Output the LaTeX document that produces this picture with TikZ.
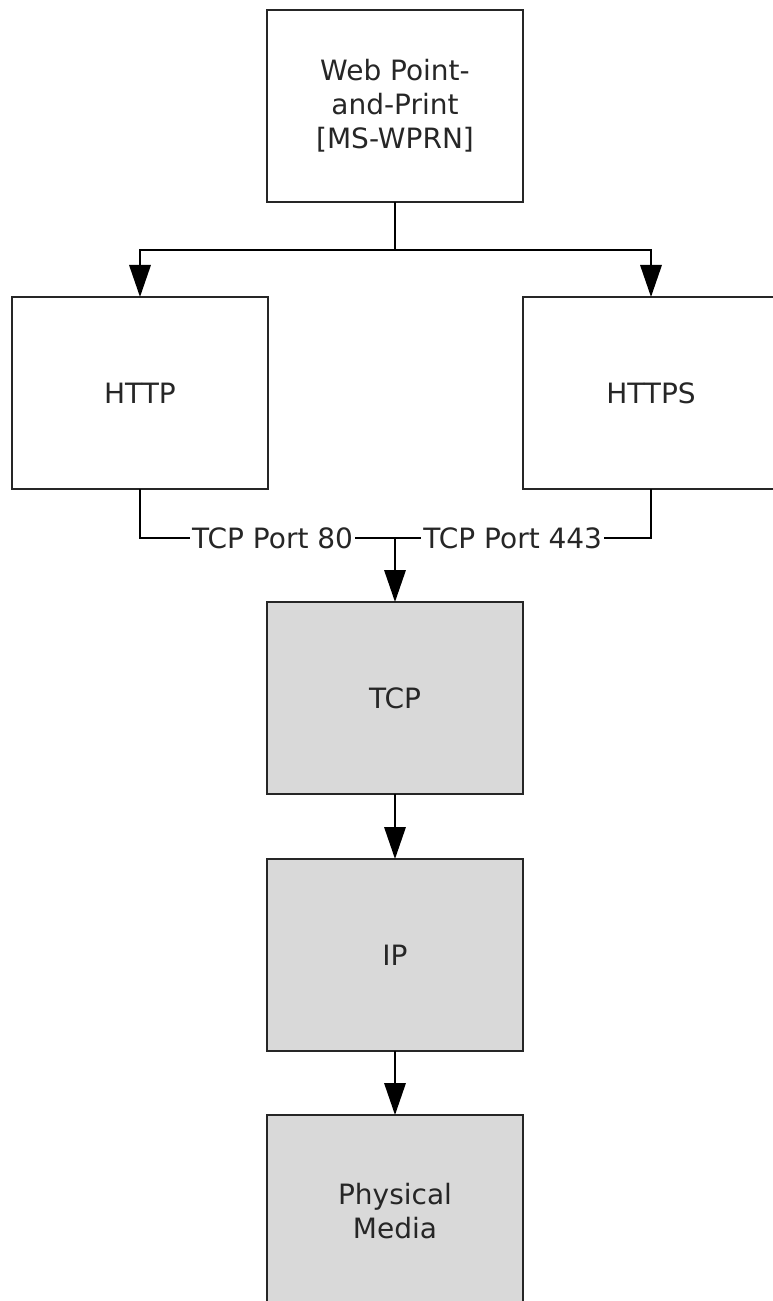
\documentclass[tikz,border=0pt]{standalone}
\usepackage{fontspec}
\setmainfont{DejaVu Sans}
\usetikzlibrary{arrows.meta,positioning,calc}

\begin{document}
\begin{tikzpicture}[
    node distance=48pt,
    box/.style={rectangle, draw=black!85, line width=1.7pt, outer sep=0pt, minimum width=192pt, minimum height=144pt, align=center, font=\fontsize{21}{25.5}\selectfont, text=black!85},
    layer/.style={box, fill=black!15},
    port/.style={fill=white, inner sep=1.5pt, font=\fontsize{21}{25.5}\selectfont, text=black!85},
    arrow/.style={-{Triangle[width=16pt,length=24pt]}, line width=1.7pt}
]
    \useasboundingbox (0,0) rectangle (579.75pt,-975.75pt);

    \node[box] (wprn) at (296.25pt,-79.5pt) {Web Point-\\and-Print\\{}[MS-WPRN]};
    \node[box, below=71.25pt of wprn, xshift=-191.25pt] (http) {HTTP};
    \node[box, below=71.25pt of wprn, xshift=192pt] (https) {HTTPS};
    \coordinate[below=36pt of wprn] (split);
    \coordinate (merge) at ($(http.south -| wprn.south)+(0,-36.75pt)$);
    \node[layer, below=of merge] (tcp) {TCP};
    \node[layer, below=48.75pt of tcp] (ip) {IP};
    \node[layer, below=of ip] (media) {Physical\\Media};

    \draw[arrow] (wprn.south) -- (split) -| (http.north);
    \draw[arrow] (split) -| (https.north);
    \draw[line width=1.7pt] (http.south) |- node[port, pos=0.76] {TCP Port 80} (merge);
    \draw[line width=1.7pt] (https.south) |- node[port, pos=0.77] {TCP Port 443} (merge);
    \draw[arrow] (merge) -- (tcp.north);
    \draw[arrow] (tcp) -- (ip);
    \draw[arrow] (ip) -- (media);
\end{tikzpicture}
\end{document}
